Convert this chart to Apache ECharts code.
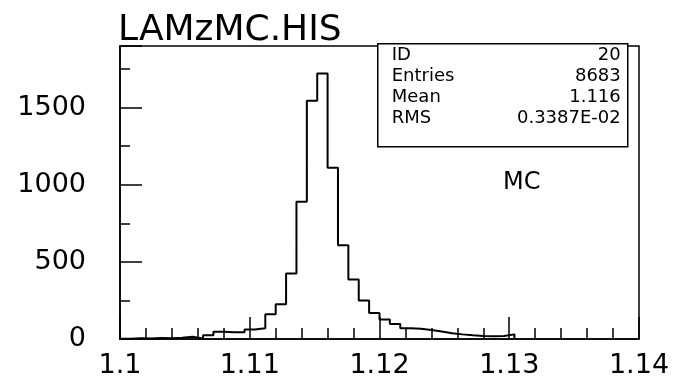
<!DOCTYPE html>
<html>
<head>
<meta charset="utf-8">
<script src="https://cdn.jsdelivr.net/npm/echarts@6/dist/echarts.min.js"></script>
<style>
html,body{margin:0;padding:0;background:#fff;}
#chart{width:676px;height:381px;}
</style>
</head>
<body>
<div id="chart"></div>
<script>
// ---- data ----
var titleText = 'LAMzMC.HIS';
var binStart = 1.1;
var binWidth = 0.0008;
var binCounts = [2, 5, 4, 6, 5, 8, 15, 4, 25, 47, 44, 43, 62, 70, 160, 226, 425, 890,
                 1545, 1721, 1110, 608, 386, 250, 168, 127, 97, 70, 66, 58, 48, 38, 30,
                 24, 20, 18, 20, 30];
var xTicks = [1.1, 1.11, 1.12, 1.13, 1.14];
var yTicks = [0, 500, 1000, 1500];
var statLabels = ['ID', 'Entries', 'Mean', 'RMS'];
var statValues = ['20', '8683', '1.116', '0.3387E-02'];
var noteText = 'MC';

// ---- build step-line points from bins ----
var pts = [];
for (var i = 0; i < binCounts.length; i++) {
  pts.push([+(binStart + i * binWidth).toFixed(5), binCounts[i]]);
}
pts.push([+(binStart + binCounts.length * binWidth).toFixed(5), 0]);

var FONT = 'DejaVu Sans';
var chart = echarts.init(document.getElementById('chart'), null, {renderer: 'canvas'});

var statChildren = [
  {type: 'rect', shape: {x: 0, y: 0, width: 250, height: 103},
   style: {fill: '#fff', stroke: '#000', lineWidth: 1.5}}
];
for (var k = 0; k < statLabels.length; k++) {
  statChildren.push({type: 'text', x: 14, y: 12 + k * 21,
    style: {text: statLabels[k], font: '18px "' + FONT + '"', fill: '#000',
            textAlign: 'left', textVerticalAlign: 'middle'}});
  statChildren.push({type: 'text', x: 243, y: 12 + k * 21,
    style: {text: statValues[k], font: '18px "' + FONT + '"', fill: '#000',
            textAlign: 'right', textVerticalAlign: 'middle'}});
}

chart.setOption({
  animation: false,
  backgroundColor: '#fff',
  title: {
    text: titleText, left: 113, top: 8,
    textStyle: {fontFamily: FONT, fontSize: 36, fontWeight: 'normal', color: '#000'}
  },
  grid: {left: 120, right: 37, top: 46, bottom: 42, show: true,
         borderColor: '#000', borderWidth: 1.5, backgroundColor: 'transparent'},
  xAxis: {
    type: 'value', min: 1.1, max: 1.14, interval: 0.01,
    axisLine: {show: true, lineStyle: {color: '#000', width: 1.5}},
    axisTick: {show: true, inside: true, length: 22, lineStyle: {color: '#000', width: 1.5}},
    minorTick: {show: true, splitNumber: 5, length: 11, lineStyle: {color: '#000', width: 1.5}},
    splitLine: {show: false},
    axisLabel: {
      fontFamily: FONT, fontSize: 27, color: '#000', margin: 13,
      formatter: function (v) {
        for (var j = 0; j < xTicks.length; j++) {
          if (Math.abs(v - xTicks[j]) < 1e-9) return String(xTicks[j]);
        }
        return '';
      }
    }
  },
  yAxis: {
    type: 'value', min: 0, max: 1900, interval: 500,
    axisLine: {show: true, lineStyle: {color: '#000', width: 1.5}},
    axisTick: {show: true, inside: true, length: 22, lineStyle: {color: '#000', width: 1.5}},
    minorTick: {show: true, splitNumber: 2, length: 10, lineStyle: {color: '#000', width: 1.5}},
    splitLine: {show: false},
    axisLabel: {
      fontFamily: FONT, fontSize: 27, color: '#000', margin: 34,
      formatter: function (v) { return yTicks.indexOf(v) >= 0 ? String(v) : ''; }
    }
  },
  series: [{
    type: 'line', step: 'end', data: pts, symbol: 'none',
    lineStyle: {color: '#000', width: 2}, z: 3
  }],
  graphic: [
    {type: 'group', left: 377, top: 43, children: statChildren, z: 10},
    {type: 'text', left: 503, top: 171,
     style: {text: noteText, font: '24px "' + FONT + '"', fill: '#000'}}
  ]
});
</script>
</body>
</html>
